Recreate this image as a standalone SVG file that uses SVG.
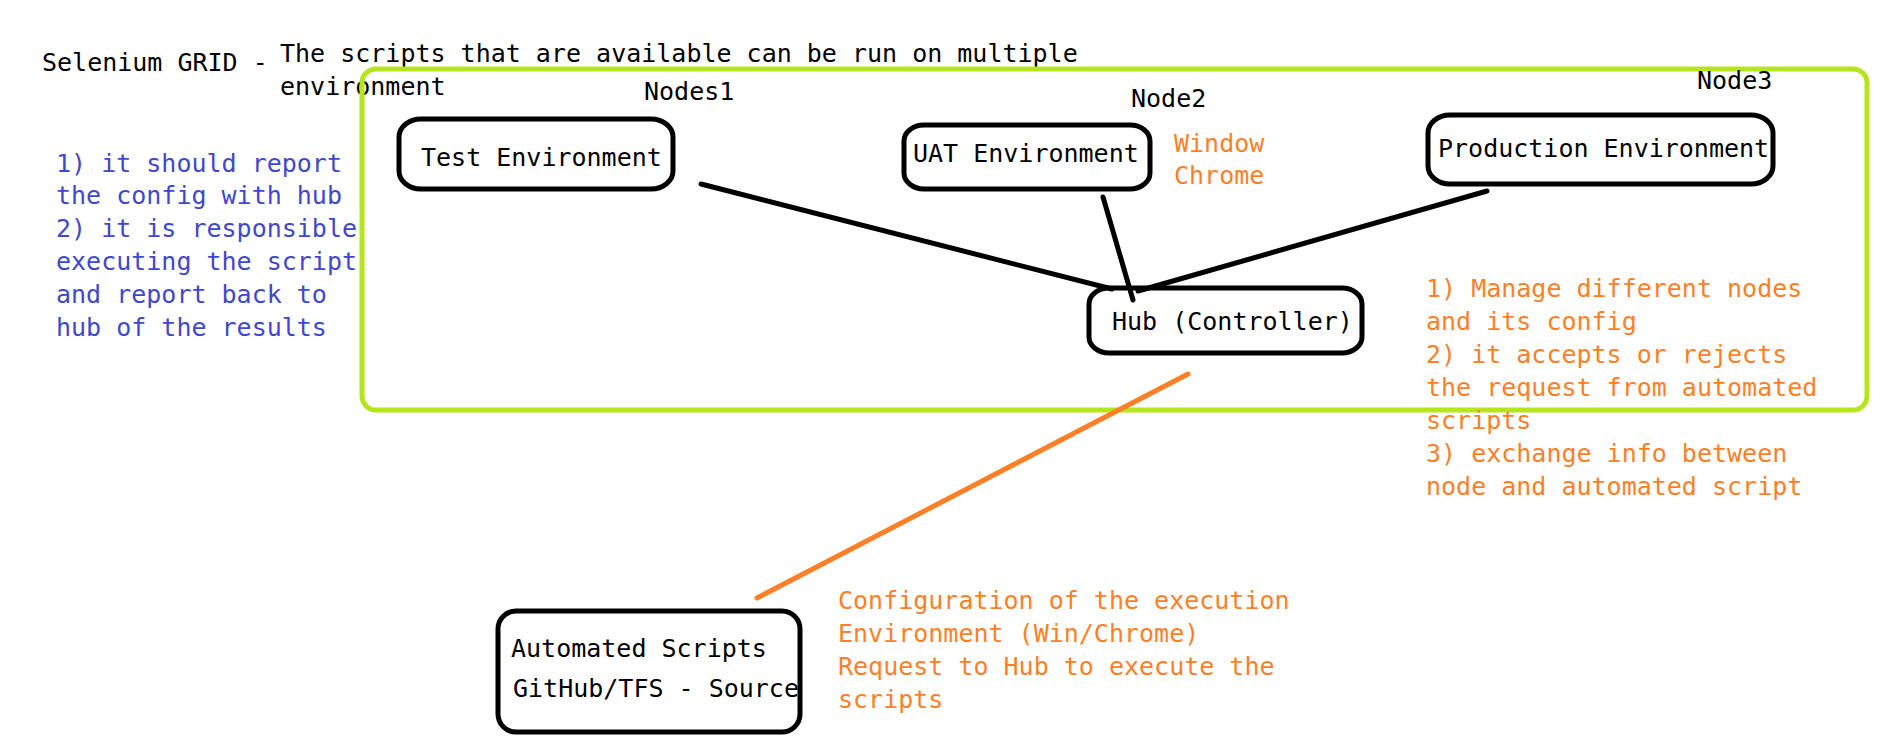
<svg xmlns="http://www.w3.org/2000/svg" width="1890" height="745" viewBox="0 0 1890 745">
<style>
text{font-family:"DejaVu Sans Mono","Liberation Mono",monospace;font-size:25px;fill:#000}
.o{fill:#ff7f27}
.b{fill:#3f48cc}
.box{fill:none;stroke:#000;stroke-width:5}
.con{stroke:#000;stroke-width:5;stroke-linecap:round;fill:none}
</style>
<rect width="1890" height="745" fill="#fff"/>
<g id="title">
<text x="42" y="71">Selenium GRID -</text>
<text x="280" y="62">The scripts that are available can be run on multiple</text>
<text x="280" y="95">environment</text>
</g>
<g id="grid-area">
<rect x="362" y="69" width="1505" height="341" rx="14" fill="none" stroke="#b5e61d" stroke-width="5"/>
</g>
<g id="node-notes">
<text class="b" x="56" y="172">1) it should report</text>
<text class="b" x="56" y="204">the config with hub</text>
<text class="b" x="56" y="237">2) it is responsible</text>
<text class="b" x="56" y="270">executing the script</text>
<text class="b" x="56" y="303">and report back to</text>
<text class="b" x="56" y="336">hub of the results</text>
</g>
<g id="connectors">
<line class="con" x1="701" y1="184" x2="1112" y2="289"/>
<line class="con" x1="1103" y1="197" x2="1133" y2="300"/>
<line class="con" x1="1487" y1="191" x2="1138" y2="291"/>
<line x1="1188" y1="374" x2="757" y2="598" stroke="#ff7f27" stroke-width="5" stroke-linecap="round"/>
</g>
<g id="node1">
<text x="644" y="100">Nodes1</text>
<rect class="box" x="399" y="119" width="274" height="70" rx="22" ry="18" fill="#fff"/>
<text x="421" y="166">Test Environment</text>
</g>
<g id="node2">
<text x="1131" y="107">Node2</text>
<rect class="box" x="904" y="125" width="246" height="64" rx="20" ry="16"/>
<text x="913" y="162">UAT Environment</text>
<text class="o" x="1174" y="152">Window</text>
<text class="o" x="1174" y="184">Chrome</text>
</g>
<g id="node3">
<text x="1697" y="89">Node3</text>
<rect class="box" x="1428" y="115" width="345" height="69" rx="22" ry="18"/>
<text x="1438" y="157">Production Environment</text>
</g>
<g id="hub">
<rect class="box" x="1089" y="288" width="273" height="65" rx="20" ry="16" fill="#fff"/>
<text x="1112" y="330">Hub (Controller)</text>
<text class="o" x="1426" y="297">1) Manage different nodes</text>
<text class="o" x="1426" y="330">and its config</text>
<text class="o" x="1426" y="363">2) it accepts or rejects</text>
<text class="o" x="1426" y="396">the request from automated</text>
<text class="o" x="1426" y="429">scripts</text>
<text class="o" x="1426" y="462">3) exchange info between</text>
<text class="o" x="1426" y="495">node and automated script</text>
</g>
<g id="scripts">
<rect class="box" x="498" y="611" width="302" height="121" rx="18"/>
<text x="511" y="657">Automated Scripts</text>
<text x="513" y="697">GitHub/TFS - Source</text>
<text class="o" x="838" y="609">Configuration of the execution</text>
<text class="o" x="838" y="642">Environment (Win/Chrome)</text>
<text class="o" x="838" y="675">Request to Hub to execute the</text>
<text class="o" x="838" y="708">scripts</text>
</g>
</svg>
